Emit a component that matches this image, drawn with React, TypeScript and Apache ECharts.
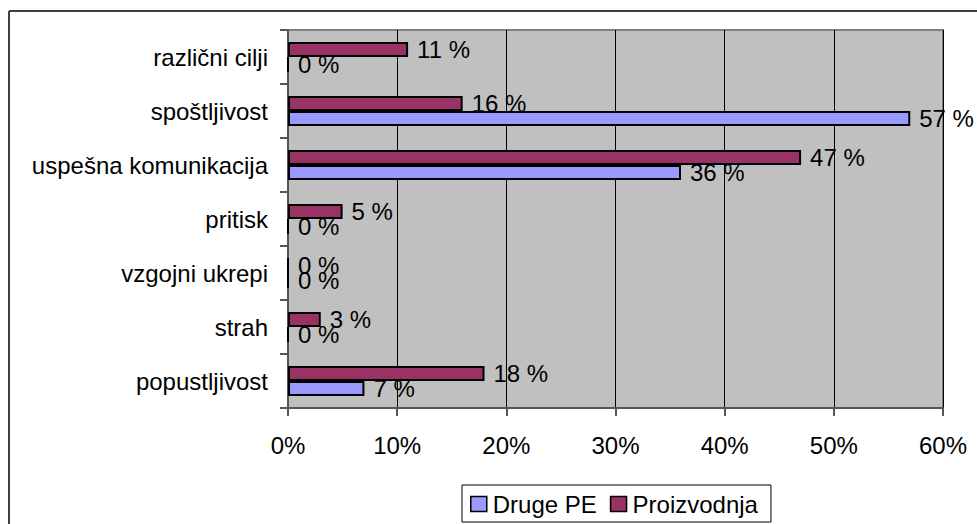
import React, { useEffect, useRef } from "react";
import * as echarts from "echarts";

// Categories listed bottom to top (category axis runs upward)
const categories = [
  "popustljivost",
  "strah",
  "vzgojni ukrepi",
  "pritisk",
  "uspešna komunikacija",
  "spoštljivost",
  "različni cilji",
];
const proizvodnja = [18, 3, 0, 5, 47, 16, 11];
const drugePE = [7, 0, 0, 0, 36, 57, 0];
const xTicks = [0, 10, 20, 30, 40, 50, 60];

const FONT = "'Liberation Sans', Arial, sans-serif";
const FS = 24;

export default function App() {
  const ref = useRef<HTMLDivElement>(null);

  useEffect(() => {
    if (!ref.current) return;
    const chart = echarts.init(ref.current, undefined, { renderer: "svg" });

    const label = {
      show: true,
      position: "right" as const,
      distance: 9,
      formatter: "{c} %",
      color: "#000",
      fontFamily: FONT,
      fontSize: FS,
    };

    chart.setOption({
      animation: false,
      backgroundColor: "#fff",
      textStyle: { fontFamily: FONT },
      grid: {
        left: 288,
        top: 30,
        width: 655,
        height: 378,
        show: true,
        backgroundColor: "#C0C0C0",
        borderColor: "#808080",
        borderWidth: 2,
      },
      xAxis: {
        type: "value",
        min: xTicks[0],
        max: xTicks[xTicks.length - 1],
        interval: 10,
        axisLine: { show: true, lineStyle: { color: "#555", width: 2 } },
        axisTick: { show: true, length: 8, lineStyle: { color: "#555", width: 2 } },
        splitLine: { show: true, lineStyle: { color: "#000", width: 1 } },
        axisLabel: {
          formatter: "{value}%",
          color: "#000",
          fontFamily: FONT,
          fontSize: FS,
          margin: 25,
        },
      },
      yAxis: {
        type: "category",
        data: categories,
        axisLine: { show: true, lineStyle: { color: "#555", width: 2 } },
        axisTick: { show: true, length: 8, lineStyle: { color: "#555", width: 2 } },
        axisLabel: {
          color: "#000",
          fontFamily: FONT,
          fontSize: FS,
          margin: 20,
        },
      },
      legend: {
        left: 462,
        top: 485,
        data: ["Druge PE", "Proizvodnja"],
        icon: "rect",
        itemWidth: 16,
        itemHeight: 15,
        itemGap: 13,
        padding: [7, 13, 6, 8],
        backgroundColor: "#fff",
        borderColor: "#000",
        borderWidth: 1,
        borderRadius: 0,
        textStyle: { color: "#000", fontFamily: FONT, fontSize: FS, padding: [0, 0, 0, 1] },
        itemStyle: { borderColor: "#000", borderWidth: 1.5 },
      },
      graphic: [
        {
          type: "line",
          shape: { x1: 9, y1: 11, x2: 977, y2: 11 },
          style: { stroke: "#404040", lineWidth: 2 },
          silent: true,
        },
        {
          type: "line",
          shape: { x1: 9, y1: 11, x2: 9, y2: 524 },
          style: { stroke: "#404040", lineWidth: 2 },
          silent: true,
        },
      ],
      series: [
        {
          name: "Proizvodnja",
          type: "bar",
          data: proizvodnja,
          barWidth: 15,
          barGap: "0%",
          itemStyle: { color: "#993366", borderColor: "#000", borderWidth: 2 },
          label,
        },
        {
          name: "Druge PE",
          type: "bar",
          data: drugePE,
          barWidth: 15,
          barGap: "0%",
          itemStyle: { color: "#9999FF", borderColor: "#000", borderWidth: 2 },
          label,
        },
      ],
    });

    return () => chart.dispose();
  }, []);

  return (
    <div
      ref={ref}
      style={{ position: "absolute", left: 0, top: 0, width: 977, height: 524 }}
    />
  );
}
